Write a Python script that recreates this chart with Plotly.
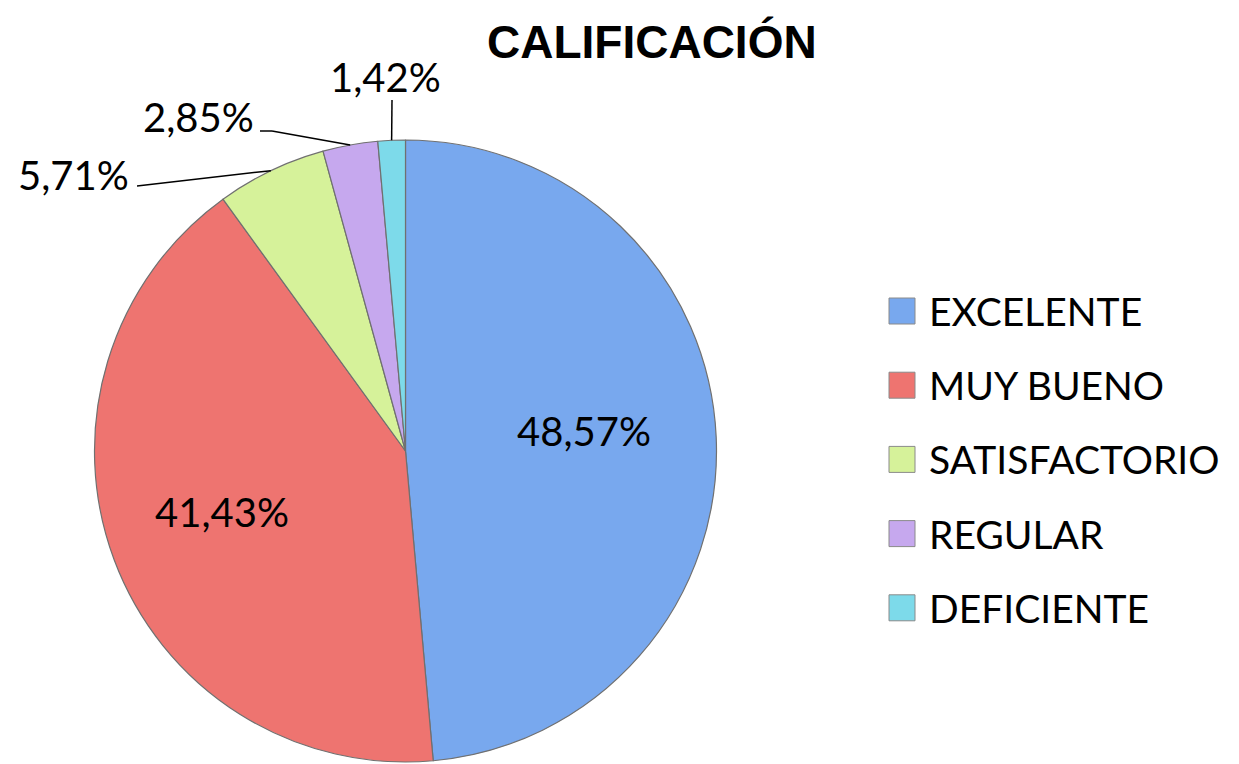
import math
import plotly.graph_objects as go

# ---- data ----
categories = ["EXCELENTE", "MUY BUENO", "SATISFACTORIO", "REGULAR", "DEFICIENTE"]
percentages = [48.57, 41.43, 5.71, 2.85, 1.42]
colors = ["#78a8ee", "#ee7470", "#d6f29a", "#c6a8ee", "#7ddaea"]
title_text = "CALIFICACIÓN"

W, H = 1239, 764
CX, CY, R = 405.5, 451.0, 311.0  # pie centre / radius in pixels (layout)

def px(x):
    return x / W

def py(y):
    return 1 - y / H

def fmt(v):
    return f"{v:.2f}".replace(".", ",") + "%"

fig = go.Figure()
fig.add_trace(go.Pie(
    labels=categories,
    values=percentages,
    sort=False,
    direction="clockwise",
    rotation=0,
    marker=dict(colors=colors, line=dict(color="#707070", width=1.2)),
    textinfo="none",
    showlegend=False,
    hoverinfo="label+value",
    domain=dict(x=[px(CX - R), px(CX + R)], y=[py(CY + R), py(CY - R)]),
))

# slice mid angles (from data)
total = sum(percentages)
cum = 0.0
mids = []
for v in percentages:
    mids.append((cum + v / 2) / total * 2 * math.pi)
    cum += v

shapes = []
annotations = []

# inside labels: placed along each slice's mid direction
inside = {0: (0.577, math.radians(-4)), 1: (0.62, math.radians(2.2))}
for i, (rf, da) in inside.items():
    a = mids[i] + da
    annotations.append(dict(xref="paper", yref="paper",
                            x=px(CX + rf * R * math.sin(a)), y=py(CY - rf * R * math.cos(a)),
                            text=fmt(percentages[i]), showarrow=False,
                            xanchor="center", yanchor="middle",
                            font=dict(family="Lato", size=40, color="#000000")))

# outside labels with leader lines, ending on each slice's mid angle
label_pos = {2: (73, 175, 137, 186), 3: (198, 117, 262, 131), 4: (385, 77, 392, 100)}
for i, (tx, ty, lx, ly) in label_pos.items():
    a = mids[i]
    ex = CX + R * math.sin(a)
    ey = CY - R * math.cos(a)
    if i == 3:
        shapes.append(dict(type="line", xref="paper", yref="paper",
                           x0=px(lx - 2), y0=py(ly), x1=px(lx + 10), y1=py(ly),
                           line=dict(color="#000000", width=1.5)))
        lx = lx + 10
    shapes.append(dict(type="line", xref="paper", yref="paper",
                       x0=px(lx), y0=py(ly), x1=px(ex), y1=py(ey),
                       line=dict(color="#000000", width=1.5)))
    annotations.append(dict(xref="paper", yref="paper", x=px(tx), y=py(ty),
                            text=fmt(percentages[i]),
                            showarrow=False, xanchor="center", yanchor="middle",
                            font=dict(family="Lato", size=40, color="#000000")))

# legend (custom, to reproduce large square keys and spacing)
leg_x, leg_y0, leg_dy, sq = 889, 311, 74.2, 26
for i, (cat, col) in enumerate(zip(categories, colors)):
    yc = leg_y0 + i * leg_dy
    shapes.append(dict(type="rect", xref="paper", yref="paper",
                       x0=px(leg_x), x1=px(leg_x + sq), y0=py(yc + sq / 2), y1=py(yc - sq / 2),
                       fillcolor=col, line=dict(color="#8a8a8a", width=1)))
    annotations.append(dict(xref="paper", yref="paper", x=px(927), y=py(yc),
                            text=cat, showarrow=False, xanchor="left", yanchor="middle",
                            font=dict(family="Lato", size=39, color="#000000")))

annotations.append(dict(xref="paper", yref="paper", x=px(652), y=py(42),
                        text=f"<b>{title_text}</b>", showarrow=False,
                        xanchor="center", yanchor="middle",
                        font=dict(family="Liberation Sans", size=46, color="#000000")))

fig.update_layout(
    width=W, height=H,
    margin=dict(l=0, r=0, t=0, b=0),
    paper_bgcolor="#ffffff",
    plot_bgcolor="#ffffff",
    separators=",.",
    shapes=shapes,
    annotations=annotations,
)

fig.write_html("out.html", config={"displayModeBar": False},
               post_script="document.body.style.margin='0';document.body.style.overflow='hidden';")
